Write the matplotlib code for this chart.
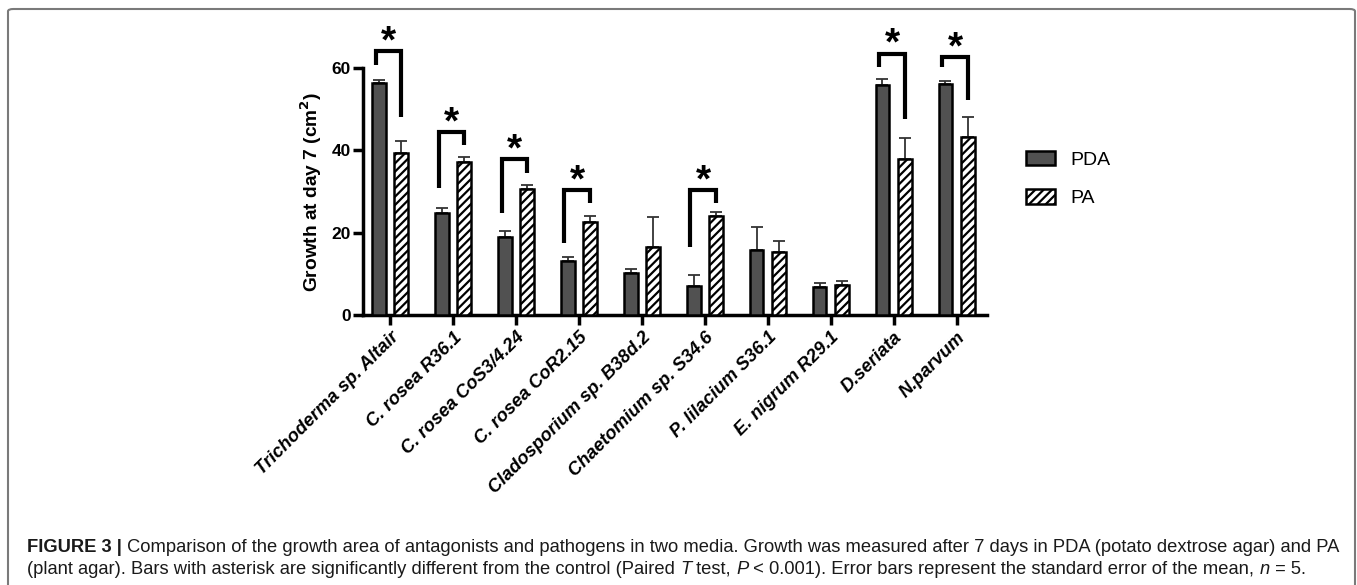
import matplotlib
matplotlib.use("Agg")
import matplotlib.pyplot as plt
from matplotlib.patches import FancyBboxPatch, Patch
import numpy as np

plt.rcParams['font.family'] = ['Liberation Sans', 'DejaVu Sans']
plt.rcParams['hatch.linewidth'] = 1.6

categories = ["Trichoderma sp. Altair", "C. rosea R36.1", "C. rosea CoS3/4.24",
              "C. rosea CoR2.15", "Cladosporium sp. B38d.2", "Chaetomium sp. S34.6",
              "P. lilacium S36.1", "E. nigrum R29.1", "D.seriata", "N.parvum"]
pda_mean = [56.3, 24.7, 19.0, 13.2, 10.3, 7.1, 15.9, 6.7, 55.8, 56.0]
pda_err = [0.9, 1.3, 1.5, 0.8, 0.9, 2.7, 5.5, 1.0, 1.6, 0.9]
pa_mean = [39.4, 37.1, 30.6, 22.6, 16.5, 24.0, 15.4, 7.3, 37.9, 43.3]
pa_err = [2.8, 1.3, 0.9, 1.5, 7.4, 0.9, 2.5, 1.0, 5.0, 4.8]

# significance brackets: group index, bracket top, left leg end, right leg end
sig_groups = [0, 1, 2, 3, 5, 8, 9]
sig_top = [64.1, 44.5, 37.8, 30.3, 30.3, 63.5, 62.7]
sig_left_end = [60.7, 30.8, 24.8, 17.6, 16.6, 60.3, 60.3]
sig_right_end = [48.1, 41.3, 34.5, 27.2, 27.2, 47.7, 52.2]

W, H = 1357, 585
fig = plt.figure(figsize=(W / 100, H / 100), dpi=100)

# axes placement
ax_l, ax_r, ax_b, ax_t = 363, 987, 315, 68
ax = fig.add_axes([ax_l / W, 1 - ax_b / H, (ax_r - ax_l) / W, (ax_b - ax_t) / H])

x = np.arange(len(categories))
off = 0.18
bw = 0.22
pda_color = '#515151'
ax.bar(x - off, pda_mean, bw, color=pda_color, edgecolor='black', linewidth=1.8,
       label='PDA', zorder=3)
ax.bar(x + off, pa_mean, bw, color='white', edgecolor='black', linewidth=1.8,
       hatch='////', label='PA', zorder=3)
ax.errorbar(x - off, pda_mean, yerr=[np.zeros(len(x)), pda_err], fmt='none',
            ecolor='#333333', elinewidth=1.3, capsize=4, capthick=1.3, zorder=2)
ax.errorbar(x + off, pa_mean, yerr=[np.zeros(len(x)), pa_err], fmt='none',
            ecolor='#333333', elinewidth=1.3, capsize=4, capthick=1.3, zorder=2)

for g, top, le, re in zip(sig_groups, sig_top, sig_left_end, sig_right_end):
    xl, xr = g - off - 0.05, g + off
    ax.plot([xl, xl, xr, xr], [le, top, top, re], color='black', lw=3,
            solid_joinstyle='miter', solid_capstyle='butt', clip_on=False, zorder=4)
    ax.annotate('*', xy=((xl + xr) / 2, top), xytext=(0, -1), textcoords='offset points',
                ha='center', va='baseline', fontsize=28, fontweight='bold',
                annotation_clip=False)

ax.set_xlim(-0.43, 9.48)
ax.set_ylim(0, 60)
ax.set_yticks([0, 20, 40, 60])
ax.set_xticks(x)
ax.set_xticklabels(categories, rotation=45, ha='right', rotation_mode='anchor',
                   fontsize=13.2, fontweight='bold', fontstyle='italic')
for lab in ax.get_yticklabels():
    lab.set_fontweight('bold')
    lab.set_fontsize(12.5)
ax.tick_params(axis='both', width=2.5, length=7, color='black')
ax.tick_params(axis='x', pad=3)
ax.tick_params(axis='y', pad=2)
for s in ['top', 'right']:
    ax.spines[s].set_visible(False)
for s in ['left', 'bottom']:
    ax.spines[s].set_linewidth(2.5)
ax.set_ylabel('Growth at day 7 (cm$^\\mathbf{2}$)', fontsize=13.8, fontweight='bold', labelpad=5)

handles = [Patch(facecolor=pda_color, edgecolor='black', linewidth=1.8),
           Patch(facecolor='white', edgecolor='black', linewidth=1.8, hatch='////')]
fig.legend(handles, ['PDA', 'PA'], loc='upper left', bbox_to_anchor=(1026 / W, 1 - 151 / H),
           frameon=False, fontsize=14, handlelength=1.5, handleheight=0.75,
           handletextpad=0.8, labelspacing=1.05, borderpad=0, borderaxespad=0)

# border (bottom edge runs off the image)
fig.patches.append(FancyBboxPatch((8 / W, -20 / H), (1355 - 8) / W, (585 + 20 - 9) / H,
                                  boxstyle='round,pad=0,rounding_size=0.004',
                                  transform=fig.transFigure, fill=False,
                                  edgecolor='#7a7a7a', linewidth=1.5))

# caption with mixed styles
renderer = fig.canvas.get_renderer()
cap_size = 13.2
lines = [
    [("FIGURE 3 |", 'bold', 'normal'),
     (" Comparison of the growth area of antagonists and pathogens in two media. Growth was measured after 7 days in PDA (potato dextrose agar) and PA", 'normal', 'normal')],
    [("(plant agar). Bars with asterisk are significantly different from the control (Paired ", 'normal', 'normal'),
     ("T", 'normal', 'italic'), (" test, ", 'normal', 'normal'), ("P", 'normal', 'italic'),
     (" < 0.001). Error bars represent the standard error of the mean, ", 'normal', 'normal'),
     ("n", 'normal', 'italic'), (" = 5.", 'normal', 'normal')],
]
line_y = [547, 569]
for segs, yy in zip(lines, line_y):
    xpos = 27
    for txt, wt, st in segs:
        t = fig.text(xpos / W, 1 - yy / H, txt, fontsize=cap_size, fontweight=wt,
                     fontstyle=st, ha='left', va='center', color='#1a1a1a')
        bb = t.get_window_extent(renderer=renderer)
        xpos += bb.width

fig.savefig('out.png', dpi=100)
